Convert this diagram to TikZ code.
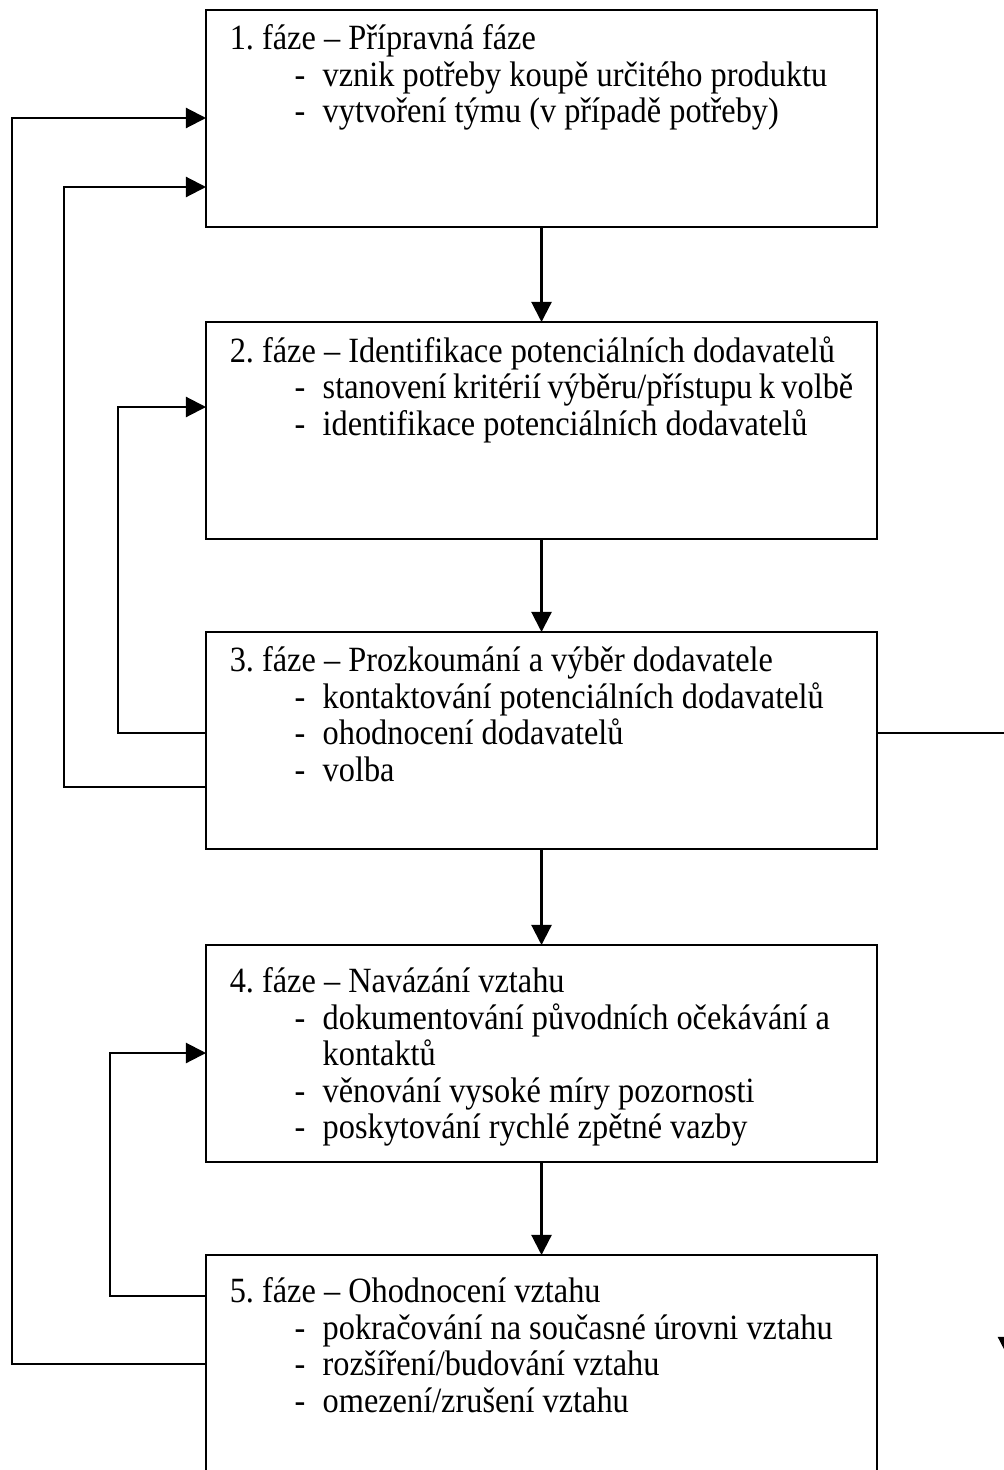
\documentclass[tikz,border=0pt]{standalone}
\usepackage{fontspec}
\setmainfont{Liberation Serif}
\usetikzlibrary{arrows.meta}

\newcommand{\itm}[1]{\\\hspace*{24.1pt}\makebox[10.4pt][l]{-}#1}
\newcommand{\phasetext}[2]{\scalebox{1.02}[1.12]{\parbox[c][64.3pt][t]{231.4pt}{\frenchspacing\fontsize{12pt}{12.32pt}\selectfont\vspace*{#1}#2}}}

\begin{document}
\begin{tikzpicture}[x=0.01331cm, y=-0.01331cm,
	phase/.style={draw, line width=0.8pt, anchor=north west, inner xsep=9pt, inner ysep=5pt, outer sep=0pt},
	arr/.style={-{Triangle[length=7.6pt,width=7.6pt]}, line width=0.8pt}]
	\useasboundingbox (0,0) rectangle (1003,1470);
	\node[phase] (f1) at (206,10) {\phasetext{0.5pt}{1. fáze – Přípravná fáze
		\itm{vznik potřeby koupě určitého produktu}
		\itm{vytvoření týmu (v případě potřeby)}}};
	\node[phase] (f2) at (206,322) {\phasetext{0.5pt}{2. fáze – Identifikace potenciálních dodavatelů
		\itm{stanovení kritérií výběru/přístupu k volbě}
		\itm{identifikace potenciálních dodavatelů}}};
	\node[phase] (f3) at (206,632) {\phasetext{0.5pt}{3. fáze – Prozkoumání a výběr dodavatele
		\itm{kontaktování potenciálních dodavatelů}
		\itm{ohodnocení dodavatelů}
		\itm{volba}}};
	\node[phase] (f4) at (206,945) {\phasetext{3.2pt}{4. fáze – Navázání vztahu
		\itm{dokumentování původních očekávání a}
		\\\hspace*{34.5pt}kontaktů
		\itm{věnování vysoké míry pozornosti}
		\itm{poskytování rychlé zpětné vazby}}};
	\node[phase] (f5) at (206,1255) {\phasetext{3.2pt}{5. fáze – Ohodnocení vztahu
		\itm{pokračování na současné úrovni vztahu}
		\itm{rozšíření/budování vztahu}
		\itm{omezení/zrušení vztahu}}};
	\coordinate (out) at (1008,1357);
	% main flow
	\draw[arr] (f1.south) -- (f2.north);
	\draw[arr] (f2.south) -- (f3.north);
	\draw[arr] (f3.south) -- (f4.north);
	\draw[arr] (f4.south) -- (f5.north);
	% feedback
	\draw[arr] (f3.west |- 0,733) -| (118,407) -- (f2.west |- 0,407);
	\draw[arr] (f3.west |- 0,787) -| (64,187) -- (f1.west |- 0,187);
	\draw[arr] (f5.west |- 0,1296) -| (110,1053) -- (f4.west |- 0,1053);
	\draw[arr] (f5.west |- 0,1364) -| (12,118) -- (f1.west |- 0,118);
	\draw[arr] (f3.east |- 0,733) -| (out);
\end{tikzpicture}
\end{document}
